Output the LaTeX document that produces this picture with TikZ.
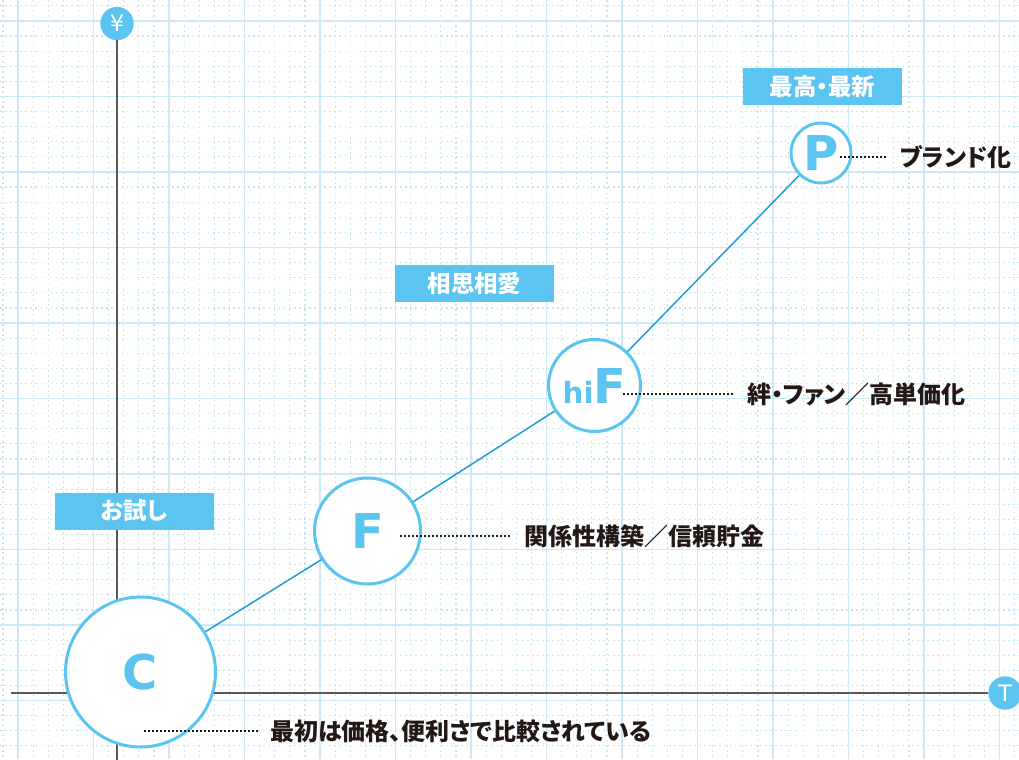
\documentclass[tikz,border=0pt]{standalone}
\usepackage{fontspec}
\newfontfamily\jp[RawFeature=+palt]{Noto Sans CJK JP}
\newfontfamily\lat{DejaVu Sans}
\definecolor{gridsolid}{HTML}{CDE9F6}
\definecolor{griddot}{HTML}{C6E6F6}
\definecolor{lblue}{HTML}{5BC4F1}
\definecolor{linkblue}{HTML}{1E9BD7}
\definecolor{axisgray}{HTML}{595757}
\definecolor{txt}{HTML}{231815}
\tikzset{
  gsolid/.style={gridsolid, line width=1.1pt},
  gdot/.style={griddot, line width=0.9pt, dash pattern=on 1.3pt off 2.5pt},
  axis/.style={axisgray, line width=1.5pt},
  axcirc/.style={circle, fill=lblue, text=white, minimum size=25pt, inner sep=0pt, font=\lat\fontsize{17}{17}\selectfont},
  stage/.style={circle, draw=lblue, line width=2.25pt, fill=white, text=lblue, inner sep=0pt, font=\lat\bfseries\fontsize{36}{36}\selectfont},
  link/.style={linkblue, line width=1.1pt},
  leader/.style={txt, line width=1.1pt, dash pattern=on 1.5pt off 1.5pt},
  lbl/.style={anchor=west, inner xsep=9pt, inner ysep=0pt, text=txt, font=\jp\bfseries\fontsize{18}{20}\selectfont},
  tag/.style={fill=lblue, text=white, minimum width=119.25pt, minimum height=27.75pt, inner sep=0pt, font=\jp\bfseries\fontsize{17.6}{20}\selectfont}
}
\begin{document}
\begin{tikzpicture}[x=0.75pt,y=-0.75pt]
\useasboundingbox (0,0) rectangle (1019,759);
\clip (0,0) rectangle (1019,759);
\fill[white] (0,0) rectangle (1019,759);
% grid
\foreach \i in {-1,...,67} \draw[gdot] ({18+15.1*\i},0) -- ({18+15.1*\i},759);
\foreach \i in {-1,...,49} \draw[gdot] (0,{21+15.1*\i}) -- (1019,{21+15.1*\i});
\foreach \i in {0,...,13} \draw[gsolid] ({18+75.5*\i},0) -- ({18+75.5*\i},759);
\foreach \i in {0,...,9} \draw[gsolid] (0,{21+75.5*\i}) -- (1019,{21+75.5*\i});
% axes
\node[axcirc] (yen) at (117,23.5) {¥};
\node[axcirc] (T) at (1005,693) {T};
\coordinate (xstart) at (11,693);
\coordinate (ybot) at (117,765);
\draw[axis] (xstart) -- (T);
\draw[axis] (yen) -- (ybot);
% stages
\node[stage, minimum size=112.5pt] (C) at (140.5,672) {C};
\node[stage, minimum size=79.5pt] (F) at (367.5,531) {F};
\node[stage, minimum size=69pt] (hiF) at (594.5,385.5) {{\fontsize{22}{22}\selectfont hi}F};
\node[stage, minimum size=45pt] (P) at (821,153) {P};
\draw[link] (C) -- (F);
\draw[link] (F) -- (hiF);
\draw[link] (hiF) -- (P);
% leaders and labels
\coordinate (cl) at (144,731);
\coordinate (fl) at (400,536);
\coordinate (hl) at (623,394);
\coordinate (pl) at (840,157);
\node[lbl] (cLbl) at (258,731) {最初は価格、便利さで比較されている};
\node[lbl] (fLbl) at (512,536) {関係性構築／信頼貯金};
\node[lbl] (hLbl) at (735,394) {絆・ファン／高単価化};
\node[lbl] (pLbl) at (888,157) {ブランド化};
\draw[leader] (cl) -- (cLbl.west);
\draw[leader] (fl) -- (fLbl.west);
\draw[leader] (hl) -- (hLbl.west);
\draw[leader] (pl) -- (pLbl.west);
% tags
\node[tag] (t1) at (822.5,87) {最高・最新};
\node[tag] (t2) at (474.5,283.5) {相思相愛};
\node[tag] (t3) at (134.5,511) {お試し};
\end{tikzpicture}
\end{document}
